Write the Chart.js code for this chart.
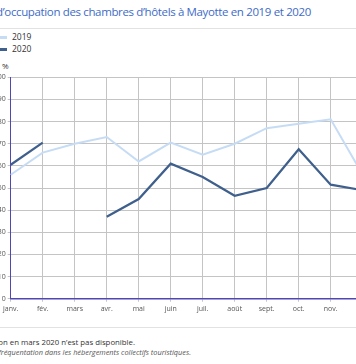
<!DOCTYPE html>
<html>
<head>
<meta charset="utf-8">
<script src="https://cdn.jsdelivr.net/npm/chart.js@4"></script>
<style>
  html, body { margin:0; padding:0; background:#fff; width:356px; height:364px; overflow:hidden; position:relative; font-family:"Open Sans", sans-serif; }
  .abs { position:absolute; white-space:nowrap; }
  #title { right:45px; top:3px; font-size:11.5px; letter-spacing:-0.36px; color:#3e6bc7; line-height:18px; }
  .sep { position:absolute; left:0; width:356px; height:1px; background:#e2e2e2; }
  .leg { position:absolute; left:0; font-size:8.5px; color:#333; line-height:10px; }
  .leg i { display:inline-block; width:8px; height:3px; vertical-align:middle; margin-right:5px; margin-left:-1px; }
  #unit { left:2px; top:61px; font-size:8px; color:#333; line-height:10px; }
  #note { right:221px; top:337px; font-size:7.8px; color:#333; line-height:10px; }
  #src { right:165px; top:347px; font-size:7.35px; color:#555; font-style:italic; line-height:10px; }
  #wrap { position:absolute; left:-40px; top:68px; width:430px; height:252px; }
</style>
</head>
<body>
<div id="title" class="abs">Taux d’occupation des chambres d’hôtels à Mayotte en 2019 et 2020</div>
<div class="sep" style="top:28px"></div>
<div id="legend"></div>
<div id="unit" class="abs">%</div>
<div id="wrap"><canvas id="c"></canvas></div>
<div class="sep" style="top:327px"></div>
<div id="note" class="abs">Note : l’information en mars 2020 n’est pas disponible.</div>
<div id="src" class="abs">Source : Insee, enquête de fréquentation dans les hébergements collectifs touristiques.</div>
<script>
const months = ['janv.','fév.','mars','avr.','mai','juin','juil.','août','sept.','oct.','nov.','déc.'];
const seriesNames = ['2019','2020'];
const values2019 = [56, 66, 70, 73, 62, 70.5, 65, 70, 77, 79, 81, 56];
const values2020 = [60.5, 70.5, null, 37, 45, 61, 55, 46.5, 50, 67.5, 51.5, 49];
const yTicks = [0,10,20,30,40,50,60,70,80,90,100];
const colors = ['#c6dcf5', '#3f5f8c'];

// HTML legend built from series names
const legend = document.getElementById('legend');
seriesNames.forEach((n, i) => {
  const d = document.createElement('div');
  d.className = 'leg';
  d.style.top = (32 + i*12) + 'px';
  d.innerHTML = '<i style="background:' + colors[i] + '"></i>' + n;
  legend.appendChild(d);
});

const gridColor = '#c4c4c4';
const axisColor = '#5046b4';
new Chart(document.getElementById('c'), {
  type: 'line',
  data: {
    labels: months,
    datasets: [
      { label: seriesNames[0], data: values2019, borderColor: colors[0], borderWidth: 2, pointRadius: 0, tension: 0, fill: false, spanGaps: false },
      { label: seriesNames[1], data: values2020, borderColor: colors[1], borderWidth: 2.2, pointRadius: 0, tension: 0, fill: false, spanGaps: false }
    ]
  },
  options: {
    responsive: true,
    maintainAspectRatio: false,
    animation: false,
    layout: { padding: { top: 9.3, right: 27.3, bottom: 0, left: 0 } },
    plugins: { legend: { display: false }, tooltip: { enabled: false } },
    scales: {
      x: {
        offset: false,
        grid: { color: gridColor, lineWidth: 1, tickLength: 3, drawTicks: true },
        border: { display: true, color: axisColor, width: 1.5 },
        ticks: { font: { family: 'Open Sans', size: 7 }, color: '#555', padding: 3, maxRotation: 0, autoSkip: false },
        afterFit: s => { s.height = 21.3; }
      },
      y: {
        min: 0, max: 100,
        afterBuildTicks: s => { s.ticks = yTicks.map(v => ({ value: v })); },
        grid: { color: gridColor, lineWidth: 1, tickLength: 3 },
        border: { display: true, color: axisColor, width: 1 },
        ticks: { font: { family: 'Open Sans', size: 7 }, color: '#555', padding: 2 },
        afterFit: s => { s.width = 50.7; }
      }
    }
  }
});
</script>
</body>
</html>
